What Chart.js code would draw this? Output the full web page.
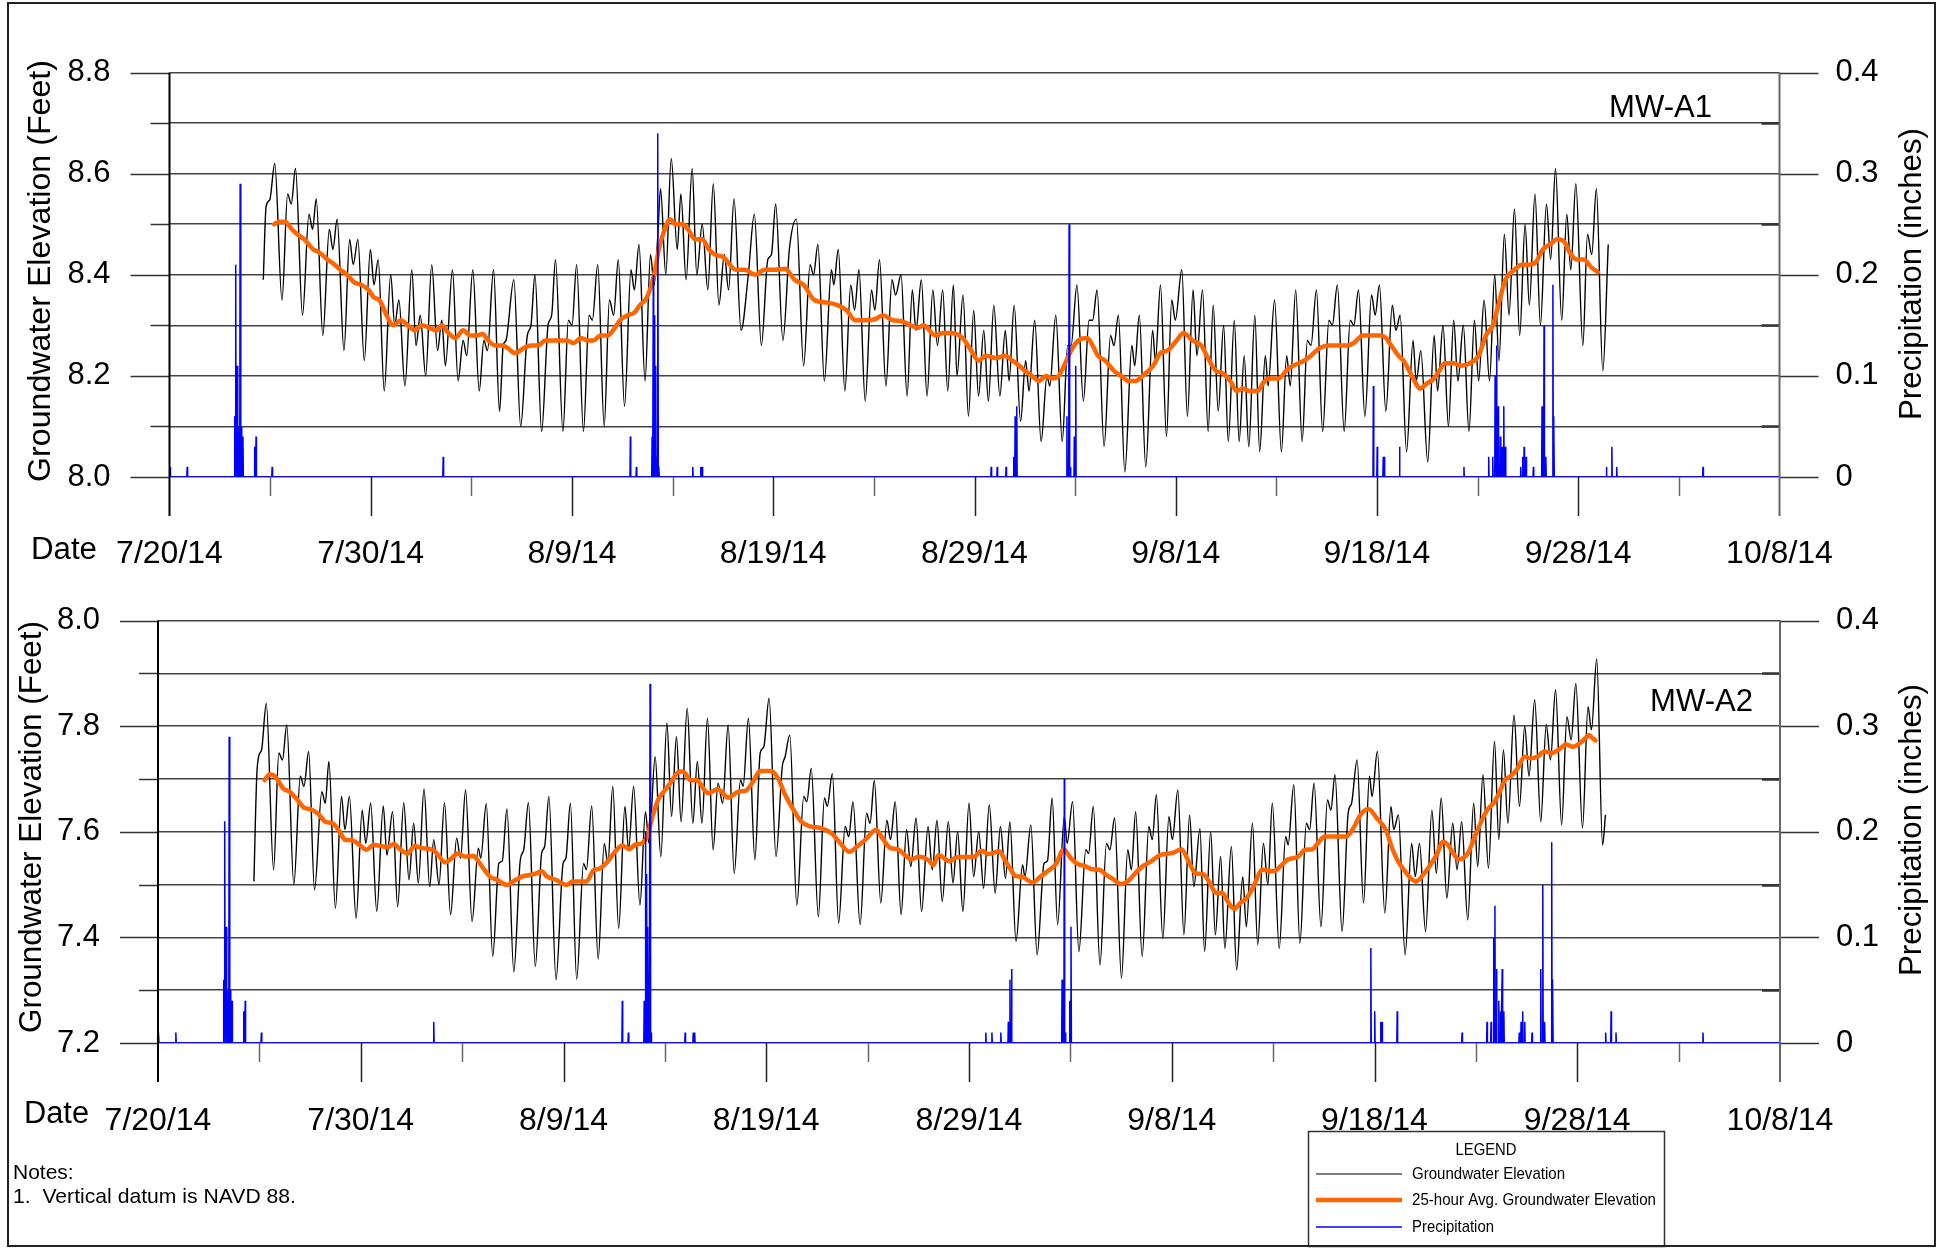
<!DOCTYPE html>
<html>
<head>
<meta charset="utf-8">
<script src="https://cdn.jsdelivr.net/npm/chart.js@4/dist/chart.umd.min.js"></script>
<style>
  html, body { margin:0; padding:0; background:#fff; }
  #page { position:relative; width:1937px; height:1248px; overflow:hidden; background:#fff; }
  canvas { position:absolute; left:0; }
  #frame { position:absolute; left:7px; top:2px; width:1929px; height:1245px; box-sizing:border-box; border:2px solid #222; pointer-events:none; }
</style>
</head>
<body>
<div id="page">
  <canvas id="cA" width="1937" height="600" style="top:0;width:1937px;height:600px"></canvas>
  <canvas id="cB" width="1937" height="648" style="top:600px;width:1937px;height:648px"></canvas>
  <div id="frame"></div>
</div>
<script>
// ---------- DATA (x = days after 7/20/14) ----------
const dateTicks = ['7/20/14','7/30/14','8/9/14','8/19/14','8/29/14','9/8/14','9/18/14','9/28/14','10/8/14'];

// MW-A1 groundwater elevation (ft)
const a1Day = [4.66,4.80,4.98,5.23,5.59,5.87,6.05,6.26,6.61,6.93,7.11,7.29,7.62,7.94,8.12,8.33,8.67,8.95,9.13,9.36,9.68,9.98,10.16,10.37,10.67,10.99,11.19,11.40,11.70,12.04,12.25,12.46,12.73,13.03,13.32,13.53,13.71,14.06,14.34,14.59,14.77,15.07,15.39,15.62,15.80,16.10,16.40,16.58,16.72,17.11,17.45,17.78,17.96,18.16,18.49,18.81,18.99,19.18,19.55,19.82,20.00,20.23,20.57,20.85,21.01,21.28,21.60,21.86,22.07,22.30,22.61,22.93,23.10,23.33,23.63,23.90,24.08,24.26,24.40,24.66,24.93,25.23,25.41,25.67,25.97,26.20,26.47,26.75,27.02,27.30,27.57,27.78,28.05,28.40,28.76,29.06,29.41,29.73,29.91,30.12,30.48,30.80,31.15,31.51,31.83,32.00,32.22,32.54,32.89,33.01,33.23,33.56,33.85,34.04,34.26,34.57,34.88,35.05,35.28,35.60,35.90,36.08,36.35,36.65,36.91,37.09,37.36,37.64,37.93,38.16,38.42,38.67,38.95,39.13,39.43,39.70,39.96,40.20,40.46,40.69,40.96,41.26,41.53,41.72,41.97,42.29,42.54,42.71,42.99,43.31,43.60,43.74,44.04,44.36,44.63,44.80,45.09,45.41,45.69,45.87,46.09,46.44,46.76,46.93,47.15,47.47,47.82,47.96,48.19,48.51,48.85,48.99,49.24,49.54,49.80,49.98,50.30,50.58,50.86,51.05,51.33,51.61,51.86,52.11,52.38,52.61,52.91,53.15,53.40,53.63,53.93,54.17,54.45,54.59,54.91,55.25,55.51,55.69,55.96,56.28,56.54,56.72,56.99,57.30,57.61,57.78,58.03,58.37,58.67,58.85,59.08,59.40,59.73,59.91,60.12,60.44,60.76,60.94,61.15,61.47,61.79,61.95,62.18,62.52,62.84,63.01,63.28,63.55,63.81,64.02,64.29,64.57,64.84,65.05,65.32,65.59,65.85,66.06,66.33,66.56,66.83,67.09,67.36,67.57,67.85,68.12,68.42,68.63,68.87,69.18,69.43,69.63,69.88,70.23,70.46,70.67,70.90,71.22,71.49];
const a1Elev = [8.39,8.535,8.548,8.62,8.35,8.56,8.54,8.61,8.32,8.52,8.49,8.55,8.28,8.49,8.45,8.51,8.25,8.47,8.42,8.47,8.23,8.45,8.38,8.43,8.17,8.40,8.30,8.35,8.18,8.41,8.26,8.32,8.20,8.42,8.25,8.31,8.22,8.41,8.19,8.27,8.24,8.41,8.17,8.27,8.25,8.41,8.13,8.26,8.27,8.39,8.10,8.28,8.30,8.40,8.09,8.30,8.32,8.43,8.09,8.31,8.30,8.42,8.09,8.32,8.31,8.42,8.10,8.35,8.32,8.43,8.14,8.41,8.37,8.46,8.19,8.44,8.38,8.475,8.57,8.40,8.63,8.45,8.56,8.39,8.61,8.40,8.50,8.37,8.58,8.34,8.44,8.37,8.55,8.29,8.40,8.52,8.26,8.43,8.44,8.54,8.27,8.45,8.51,8.22,8.42,8.40,8.46,8.19,8.41,8.38,8.45,8.17,8.38,8.33,8.41,8.15,8.37,8.33,8.43,8.18,8.39,8.36,8.40,8.16,8.37,8.29,8.39,8.16,8.37,8.26,8.37,8.17,8.38,8.20,8.36,8.12,8.33,8.16,8.29,8.15,8.34,8.16,8.29,8.19,8.34,8.11,8.23,8.17,8.31,8.07,8.20,8.18,8.32,8.07,8.26,8.26,8.38,8.15,8.31,8.31,8.37,8.06,8.28,8.26,8.32,8.01,8.26,8.22,8.32,8.02,8.29,8.23,8.38,8.08,8.35,8.31,8.41,8.12,8.37,8.24,8.37,8.09,8.34,8.13,8.30,8.07,8.31,8.07,8.24,8.06,8.32,8.05,8.24,8.18,8.35,8.05,8.24,8.18,8.37,8.07,8.27,8.26,8.37,8.09,8.31,8.30,8.38,8.09,8.31,8.30,8.37,8.12,8.36,8.32,8.38,8.13,8.34,8.29,8.32,8.05,8.27,8.19,8.25,8.03,8.28,8.17,8.30,8.10,8.31,8.19,8.30,8.09,8.31,8.19,8.35,8.19,8.40,8.23,8.48,8.32,8.53,8.28,8.50,8.34,8.56,8.30,8.54,8.43,8.61,8.31,8.52,8.41,8.58,8.26,8.48,8.44,8.57,8.21,8.46];

// MW-A1 25-hour average (ft)
const a1AvgDay = [5.20,5.46,5.73,6.08,6.35,6.70,7.15,7.41,7.85,8.21,8.48,8.83,9.18,9.54,9.89,10.16,10.43,10.78,11.13,11.49,11.84,12.20,12.55,12.91,13.26,13.53,13.85,14.20,14.59,14.95,15.27,15.57,15.83,16.19,16.54,16.81,17.16,17.61,17.96,18.32,18.67,19.02,19.38,19.73,20.09,20.44,20.80,21.06,21.42,21.77,22.04,22.39,22.75,23.10,23.37,23.72,24.08,24.34,24.61,24.88,25.14,25.50,25.76,26.12,26.47,26.80,27.10,27.52,28.14,28.58,29.11,29.56,30.09,30.59,31.06,31.51,32.04,32.66,33.19,33.63,34.08,34.61,35.05,35.44,35.94,36.38,36.83,37.18,37.45,38.07,38.42,38.87,39.40,39.84,40.20,40.55,41.08,41.52,41.88,42.23,42.50,42.85,43.21,43.56,43.92,44.18,44.45,44.80,45.16,45.60,45.87,46.13,46.49,46.93,47.29,47.64,48.00,48.35,48.88,49.24,49.59,50.04,50.39,50.83,51.28,51.54,51.99,52.34,52.70,53.05,53.32,53.67,54.06,54.33,54.59,55.12,55.48,55.83,56.37,56.72,57.16,57.61,58.05,58.49,58.85,59.29,59.65,60.18,60.44,60.71,61.06,61.33,61.60,61.86,62.13,62.48,62.84,63.10,63.37,63.81,64.17,64.61,65.05,65.41,65.76,66.03,66.38,66.83,67.18,67.54,67.89,68.24,68.60,68.95,69.31,69.57,69.93,70.28,70.64,70.99];
const a1Avg = [8.50,8.505,8.505,8.49,8.48,8.47,8.45,8.445,8.43,8.42,8.41,8.40,8.385,8.38,8.37,8.355,8.35,8.32,8.30,8.31,8.30,8.29,8.30,8.295,8.29,8.30,8.285,8.275,8.29,8.28,8.28,8.283,8.27,8.26,8.26,8.255,8.245,8.255,8.26,8.26,8.27,8.27,8.27,8.27,8.265,8.275,8.27,8.27,8.28,8.28,8.29,8.31,8.32,8.325,8.34,8.355,8.40,8.455,8.49,8.51,8.50,8.50,8.49,8.47,8.47,8.45,8.44,8.435,8.41,8.41,8.40,8.41,8.41,8.412,8.39,8.38,8.35,8.345,8.34,8.33,8.31,8.31,8.312,8.32,8.31,8.308,8.30,8.295,8.30,8.28,8.285,8.285,8.275,8.25,8.23,8.24,8.235,8.24,8.23,8.22,8.21,8.20,8.19,8.20,8.195,8.20,8.22,8.25,8.27,8.275,8.26,8.24,8.23,8.21,8.20,8.19,8.19,8.20,8.22,8.245,8.25,8.27,8.285,8.27,8.26,8.24,8.21,8.205,8.19,8.17,8.175,8.17,8.17,8.185,8.195,8.195,8.21,8.22,8.23,8.24,8.255,8.26,8.26,8.26,8.265,8.28,8.28,8.28,8.275,8.26,8.24,8.23,8.21,8.19,8.175,8.185,8.195,8.21,8.225,8.225,8.22,8.225,8.24,8.28,8.30,8.34,8.39,8.41,8.42,8.42,8.425,8.45,8.46,8.47,8.465,8.445,8.43,8.43,8.415,8.405];

// MW-A2 groundwater elevation (ft)
const a2Day = [4.73,4.87,4.99,5.11,5.34,5.70,5.96,6.14,6.35,6.70,7.02,7.20,7.43,7.72,8.08,8.25,8.43,8.75,9.05,9.22,9.44,9.77,10.07,10.25,10.49,10.79,11.11,11.29,11.57,11.82,12.12,12.38,12.61,12.84,13.12,13.40,13.60,13.86,14.13,14.43,14.73,14.92,15.17,15.49,15.80,15.92,16.19,16.51,16.81,16.98,17.21,17.55,17.87,18.04,18.27,18.61,18.92,19.07,19.28,19.63,19.98,20.12,20.34,20.65,20.99,21.13,21.39,21.71,22.01,22.19,22.43,22.72,23.03,23.21,23.46,23.77,24.04,24.22,24.52,24.80,25.10,25.33,25.57,25.80,26.10,26.38,26.60,26.83,27.10,27.38,27.62,27.85,28.12,28.42,28.73,28.86,29.12,29.44,29.70,29.88,30.14,30.48,30.79,30.93,31.16,31.51,31.85,32.00,32.22,32.57,32.87,33.01,33.26,33.57,33.89,34.07,34.28,34.63,34.95,35.12,35.33,35.65,35.95,36.13,36.36,36.65,36.92,37.13,37.39,37.66,37.98,38.19,38.42,38.68,38.98,39.21,39.44,39.70,40.00,40.23,40.48,40.72,41.00,41.29,41.55,41.80,42.02,42.32,42.64,42.76,43.05,43.36,43.70,43.87,44.10,44.37,44.70,44.84,45.11,45.42,45.76,45.90,46.13,46.46,46.78,46.95,47.18,47.52,47.83,48.01,48.22,48.54,48.87,49.04,49.24,49.56,49.86,50.03,50.30,50.60,50.88,51.09,51.39,51.62,51.92,52.15,52.41,52.62,52.94,53.20,53.50,53.68,53.98,54.24,54.52,54.74,54.96,55.30,55.62,55.74,56.02,56.32,56.64,56.80,57.02,57.36,57.68,57.85,58.05,58.40,58.70,58.87,59.14,59.46,59.75,59.88,60.14,60.51,60.81,60.95,61.18,61.51,61.83,62.01,62.22,62.52,62.83,63.05,63.29,63.57,63.86,64.07,64.30,64.60,64.89,65.09,65.35,65.62,65.92,66.13,66.36,66.58,66.88,67.15,67.41,67.62,67.90,68.20,68.47,68.68,68.93,69.23,69.49,69.70,69.93,70.26,70.53,70.70,70.96,71.25,71.39];
const a2Elev = [7.506,7.705,7.746,7.755,7.843,7.528,7.749,7.736,7.802,7.50,7.705,7.686,7.752,7.49,7.676,7.654,7.733,7.455,7.667,7.604,7.667,7.436,7.641,7.578,7.654,7.449,7.649,7.556,7.638,7.458,7.655,7.509,7.616,7.503,7.681,7.496,7.585,7.50,7.655,7.443,7.588,7.55,7.679,7.43,7.569,7.55,7.653,7.364,7.54,7.545,7.643,7.335,7.547,7.566,7.655,7.345,7.559,7.572,7.667,7.32,7.54,7.55,7.654,7.321,7.54,7.528,7.649,7.359,7.578,7.54,7.686,7.417,7.648,7.566,7.686,7.461,7.638,7.578,7.742,7.553,7.806,7.629,7.78,7.619,7.834,7.616,7.733,7.616,7.815,7.566,7.692,7.654,7.802,7.521,7.698,7.686,7.815,7.547,7.749,7.761,7.853,7.553,7.723,7.742,7.783,7.461,7.667,7.657,7.72,7.439,7.664,7.648,7.71,7.427,7.61,7.591,7.657,7.424,7.635,7.616,7.697,7.465,7.622,7.585,7.657,7.443,7.604,7.534,7.626,7.449,7.61,7.528,7.622,7.468,7.619,7.503,7.60,7.449,7.654,7.515,7.60,7.493,7.651,7.484,7.61,7.512,7.619,7.392,7.537,7.515,7.613,7.367,7.54,7.545,7.664,7.424,7.629,7.578,7.657,7.373,7.566,7.559,7.648,7.348,7.578,7.566,7.626,7.323,7.566,7.528,7.638,7.364,7.61,7.585,7.67,7.398,7.629,7.585,7.679,7.405,7.632,7.496,7.606,7.373,7.60,7.405,7.553,7.379,7.572,7.338,7.515,7.42,7.616,7.386,7.578,7.50,7.654,7.379,7.591,7.575,7.689,7.389,7.616,7.604,7.692,7.42,7.66,7.641,7.708,7.411,7.635,7.654,7.736,7.465,7.705,7.667,7.752,7.446,7.648,7.604,7.632,7.367,7.578,7.515,7.578,7.411,7.641,7.521,7.664,7.474,7.616,7.528,7.619,7.433,7.654,7.534,7.708,7.531,7.771,7.585,7.755,7.616,7.821,7.648,7.80,7.705,7.85,7.619,7.803,7.736,7.869,7.613,7.818,7.774,7.881,7.607,7.837,7.793,7.927,7.575,7.632];

// MW-A2 25-hour average (ft)
const a2AvgDay = [5.26,5.52,5.78,6.17,6.49,6.84,7.23,7.51,7.90,8.25,8.61,8.96,9.22,9.58,9.93,10.28,10.63,10.99,11.34,11.64,11.96,12.31,12.66,13.02,13.55,13.81,14.16,14.43,14.78,15.13,15.57,15.80,16.10,16.37,16.72,16.98,17.21,17.51,17.95,18.31,18.66,18.92,19.19,19.63,19.89,20.16,20.42,20.78,21.13,21.48,21.83,22.19,22.54,22.89,23.25,23.51,23.86,24.13,24.39,24.66,25.01,25.27,25.71,25.98,26.24,26.60,26.95,27.15,27.59,28.12,28.64,29.00,29.35,29.70,30.23,30.58,30.93,31.29,31.73,32.17,32.69,33.22,33.66,34.10,34.45,34.89,35.42,35.77,36.13,36.48,36.83,37.18,37.53,37.98,38.24,38.50,38.77,39.03,39.30,39.56,39.91,40.26,40.62,40.97,41.50,41.76,42.02,42.29,42.64,42.90,43.17,43.52,43.87,44.31,44.67,45.02,45.37,45.72,46.08,46.43,46.78,47.13,47.48,47.83,48.19,48.54,48.98,49.42,49.77,50.12,50.48,50.83,51.18,51.53,51.88,52.15,52.50,52.76,53.08,53.38,53.68,54.03,54.47,55.00,55.35,55.70,56.23,56.58,56.94,57.20,57.55,58.08,58.61,58.96,59.31,59.70,60.11,60.55,60.90,61.16,61.51,61.78,62.04,62.39,62.75,63.10,63.36,63.63,63.89,64.15,64.60,64.95,65.30,65.56,65.92,66.18,66.44,66.71,67.06,67.41,67.68,68.03,68.38,68.73,69.08,69.44,69.79,70.14,70.40,70.58,70.76,70.90];
const a2Avg = [7.698,7.709,7.705,7.682,7.676,7.662,7.645,7.643,7.634,7.619,7.616,7.60,7.585,7.584,7.575,7.566,7.575,7.573,7.571,7.577,7.566,7.559,7.573,7.569,7.566,7.556,7.542,7.548,7.559,7.553,7.554,7.544,7.528,7.515,7.509,7.503,7.499,7.506,7.515,7.518,7.521,7.525,7.515,7.509,7.503,7.499,7.506,7.506,7.506,7.527,7.531,7.544,7.562,7.574,7.567,7.575,7.578,7.591,7.629,7.66,7.679,7.692,7.714,7.712,7.698,7.697,7.679,7.673,7.681,7.665,7.676,7.678,7.695,7.715,7.715,7.701,7.67,7.645,7.619,7.61,7.607,7.597,7.578,7.562,7.571,7.585,7.604,7.585,7.569,7.567,7.556,7.548,7.553,7.547,7.537,7.556,7.55,7.544,7.55,7.552,7.552,7.553,7.564,7.558,7.563,7.547,7.531,7.516,7.515,7.508,7.504,7.515,7.525,7.54,7.567,7.55,7.539,7.535,7.529,7.528,7.518,7.51,7.501,7.506,7.521,7.534,7.544,7.556,7.558,7.561,7.567,7.544,7.521,7.52,7.503,7.485,7.484,7.468,7.454,7.465,7.474,7.496,7.528,7.525,7.534,7.547,7.553,7.566,7.567,7.578,7.591,7.591,7.591,7.607,7.632,7.643,7.626,7.604,7.566,7.544,7.525,7.512,7.506,7.518,7.537,7.559,7.581,7.575,7.559,7.548,7.559,7.591,7.622,7.641,7.657,7.676,7.698,7.705,7.72,7.742,7.739,7.742,7.752,7.749,7.755,7.765,7.761,7.768,7.777,7.783,7.777,7.773];

// Precipitation (inches), same gauge for both panels
const rainDay = [0.03,0.88,3.23,3.29,3.36,3.42,3.47,3.51,3.57,3.65,4.22,4.30,5.10,13.60,22.90,23.20,23.98,24.04,24.10,24.16,24.21,24.27,24.32,26.00,26.40,26.47,40.83,41.13,41.57,41.94,42.02,42.10,44.59,44.70,44.76,44.96,45.03,59.82,60.01,60.31,60.37,61.12,64.32,65.55,65.75,65.87,65.94,66.02,66.13,66.22,66.30,66.38,67.14,67.23,67.31,67.41,67.77,68.20,68.30,68.39,68.74,68.79,71.40,71.67,71.91,76.20];
const rainIn  = [0.01,0.01,0.06,0.21,0.11,0.04,0.05,0.29,0.05,0.04,0.03,0.04,0.01,0.02,0.04,0.01,0.04,0.20,0.16,0.11,0.02,0.34,0.01,0.01,0.01,0.01,0.01,0.01,0.01,0.02,0.06,0.07,0.06,0.25,0.01,0.04,0.11,0.09,0.03,0.02,0.02,0.03,0.01,0.02,0.02,0.10,0.13,0.07,0.04,0.03,0.07,0.03,0.01,0.02,0.03,0.02,0.01,0.07,0.15,0.02,0.19,0.06,0.01,0.03,0.01,0.01];

// ---------- helpers ----------
const FONT = "'Liberation Sans', Arial, sans-serif";
const NARROW = "'Liberation Sans Narrow', 'Liberation Sans', Arial, sans-serif";
Chart.defaults.font.family = FONT;
Chart.defaults.color = '#000';

function pts(xs, ys) { return xs.map((x, i) => ({ x: x, y: ys[i] })); }
function rainPts() {
  const out = [{ x: 0, y: 0 }];
  rainDay.forEach((d, i) => { out.push({ x: d - 0.02, y: 0 }, { x: d, y: rainIn[i] }, { x: d + 0.02, y: 0 }); });
  out.push({ x: 80, y: 0 });
  return out;
}
function drawText(ctx, t) {
  ctx.save();
  ctx.font = t.font;
  ctx.fillStyle = t.color || '#000';
  ctx.textBaseline = 'middle';
  ctx.textAlign = t.align || 'left';
  ctx.translate(t.x, t.y);
  if (t.rot) ctx.rotate(t.rot);
  if (t.w) { const m = ctx.measureText(t.s).width; ctx.scale(t.w / m, 1); }
  ctx.fillText(t.s, 0, 0);
  ctx.restore();
}
function seg(ctx, x1, y1, x2, y2) { ctx.beginPath(); ctx.moveTo(x1, y1); ctx.lineTo(x2, y2); ctx.stroke(); }

function decor(o) {
  return {
    id: 'decor',
    afterDraw(chart) {
      const ctx = chart.ctx, a = chart.chartArea;
      const sx = chart.scales.x, sy = chart.scales.y, sr = chart.scales.y2;
      ctx.save();
      ctx.lineWidth = 1.5;
      // x tick marks (major every 10 days, minor every 5)
      for (let d = 5; d < 80; d += 5) {
        const px = Math.round(sx.getPixelForValue(d)) + 0.5;
        const major = d % 10 === 0;
        ctx.strokeStyle = major ? '#222' : '#666';
        seg(ctx, px, a.bottom, px, a.bottom + (major ? 39 : 19));
      }
      // left tick marks
      ctx.strokeStyle = '#333';
      for (let t = 0; t <= 8; t++) {
        const py = Math.round(sy.getPixelForValue(o.yMin + t * 0.1)) + 0.5;
        seg(ctx, a.left - (t % 2 === 0 ? o.majLen : 19), py, a.left, py);
      }
      // right tick marks
      for (let t = 0; t <= 8; t++) {
        const py = Math.round(sr.getPixelForValue(t * 0.05)) + 0.5;
        if (t % 2 === 0) seg(ctx, a.right, py, a.right + 39, py);
        else { ctx.lineWidth = 2.5; seg(ctx, a.right - 18, py, a.right, py); ctx.lineWidth = 1.5; }
      }
      // axis lines
      ctx.lineWidth = 2;
      ctx.strokeStyle = '#000';
      seg(ctx, a.left, a.top, a.left, a.bottom + 39);
      ctx.strokeStyle = '#666';
      seg(ctx, a.right, a.top, a.right, a.bottom + 39);
      ctx.restore();
      o.texts.forEach(t => drawText(ctx, t));
      if (o.extra) o.extra(chart, ctx);
    }
  };
}

function makeChart(id, o) {
  return new Chart(document.getElementById(id), {
    type: 'line',
    data: {
      datasets: [
        { label: 'Precipitation', data: rainPts(), yAxisID: 'y2', borderColor: '#0000ff', borderWidth: 1.5, pointRadius: 0, tension: 0 },
        { label: '25-hour Avg. Groundwater Elevation', data: pts(o.avgDay, o.avg), yAxisID: 'y', borderColor: '#ff6600', borderWidth: 4.5, pointRadius: 0, cubicInterpolationMode: 'monotone', borderCapStyle: 'round', borderJoinStyle: 'round' },
        { label: 'Groundwater Elevation', data: pts(o.day, o.elev), yAxisID: 'y', borderColor: '#000', borderWidth: 1.4, pointRadius: 0, cubicInterpolationMode: 'monotone' }
      ]
    },
    options: {
      responsive: false, animation: false, devicePixelRatio: 1,
      layout: { padding: { top: o.top, left: 0, right: 0, bottom: 0 } },
      plugins: { legend: { display: false }, tooltip: { enabled: false }, title: { display: false } },
      scales: {
        x: {
          type: 'linear', min: 0, max: 80,
          grid: { display: false }, border: { display: false },
          ticks: { stepSize: 10, autoSkip: false, maxRotation: 0, minRotation: 0, padding: o.xPad, font: { size: 32 }, color: '#000',
                   callback: (v) => { const i = Math.round(v / 10); return dateTicks[i] !== undefined ? dateTicks[i] : ''; } },
          afterFit: (s) => { s.height = o.xH; }
        },
        y: {
          position: 'left', min: o.yMin, max: o.yMin + 0.8,
          grid: { color: '#444', lineWidth: 1.5, drawTicks: true, tickLength: o.yPad, tickColor: 'rgba(0,0,0,0)' },
          border: { display: false },
          ticks: { stepSize: 0.1, autoSkip: false, padding: 0, font: { size: 31 }, color: '#000',
                   callback: (v) => { const t = Math.round(v * 10); return t % 2 === 0 ? (t / 10).toFixed(1) : ''; } },
          afterFit: (s) => { s.width = o.left; }
        },
        y2: {
          position: 'right', min: 0, max: 0.4,
          grid: { display: true, drawOnChartArea: false, drawTicks: true, tickLength: 56, tickColor: 'rgba(0,0,0,0)' },
          border: { display: false },
          ticks: { stepSize: 0.05, autoSkip: false, padding: 0, font: { size: 31 }, color: '#000',
                   callback: (v) => { const t = Math.round(v * 100); return t % 10 === 0 ? (t === 0 ? '0' : (t / 100).toFixed(1)) : ''; } },
          afterFit: (s) => { s.width = 1937 - o.right; }
        }
      }
    },
    plugins: [decor(o)]
  });
}

// ---------- top panel: MW-A1 ----------
makeChart('cA', {
  day: a1Day, elev: a1Elev, avgDay: a1AvgDay, avg: a1Avg,
  yMin: 8.0, top: 72.5, left: 169.5, right: 1779.5, xH: 123, xPad: 50, yPad: 59, majLen: 39,
  texts: [
    { s: 'Groundwater Elevation (Feet)', x: 41, y: 271, rot: -Math.PI / 2, align: 'center', font: '32px ' + FONT, w: 422 },
    { s: 'Precipitation (inches)', x: 1912, y: 274, rot: -Math.PI / 2, align: 'center', font: '31px ' + FONT, w: 292 },
    { s: 'Date', x: 31, y: 550, font: '31px ' + FONT, w: 66 },
    { s: 'MW-A1', x: 1609, y: 108, font: '31px ' + FONT, w: 103 }
  ]
});

// ---------- bottom panel: MW-A2 ----------
makeChart('cB', {
  day: a2Day, elev: a2Elev, avgDay: a2AvgDay, avg: a2Avg,
  yMin: 7.2, top: 20.5, left: 158, right: 1780, xH: 205, xPad: 51, yPad: 58, majLen: 38,
  texts: [
    { s: 'Groundwater Elevation (Feet)', x: 32, y: 227, rot: -Math.PI / 2, align: 'center', font: '32px ' + FONT, w: 412 },
    { s: 'Precipitation (inches)', x: 1912, y: 230, rot: -Math.PI / 2, align: 'center', font: '31px ' + FONT, w: 292 },
    { s: 'Date', x: 24, y: 514, font: '31px ' + FONT, w: 65 },
    { s: 'MW-A2', x: 1650, y: 102, font: '31px ' + FONT, w: 103 },
    { s: 'Notes:', x: 13, y: 573, font: '21px ' + FONT },
    { s: '1.  Vertical datum is NAVD 88.', x: 13, y: 597, font: '21px ' + FONT, w: 283 }
  ],
  extra: (chart, ctx) => {
    const ds = chart.data.datasets;
    ctx.save();
    ctx.fillStyle = '#fff';
    ctx.fillRect(1308, 531, 357, 116);
    ctx.strokeStyle = '#333'; ctx.lineWidth = 1.5;
    ctx.strokeRect(1308.5, 531.5, 356, 115);
    drawText(ctx, { s: 'LEGEND', x: 1486, y: 551, align: 'center', font: '16px ' + NARROW, w: 61 });
    const rows = [
      { d: ds[2], y: 574, w: 153, lw: 1.2 },
      { d: ds[1], y: 600, w: 244, lw: 4.5 },
      { d: ds[0], y: 627, w: 82, lw: 1.3 }
    ];
    rows.forEach(r => {
      ctx.strokeStyle = r.d.borderColor; ctx.lineWidth = r.lw;
      seg(ctx, 1316, r.y, 1402, r.y);
      drawText(ctx, { s: r.d.label, x: 1412, y: r.y, font: '17px ' + NARROW, w: r.w });
    });
    ctx.restore();
  }
});
</script>
</body>
</html>
